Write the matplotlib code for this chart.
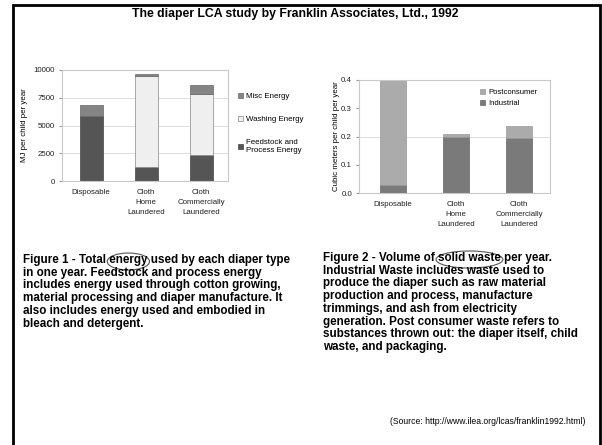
import matplotlib
matplotlib.use("Agg")
import matplotlib.pyplot as plt
from matplotlib.patches import Ellipse, Rectangle

plt.rcParams['font.family'] = ['Liberation Sans', 'DejaVu Sans']

# figure 1: energy (MJ per child per year)
categories = ["Disposable", "Cloth\nHome\nLaundered", "Cloth\nCommercially\nLaundered"]
feedstock = [5900, 1300, 2300]
washing = [0, 8150, 5500]
misc = [950, 150, 850]

# figure 2: solid waste (cubic meters per child per year)
industrial = [0.03, 0.20, 0.195]
postconsumer = [0.365, 0.01, 0.042]

caption1 = ("Figure 1 - Total energy used by each diaper type\n"
            "in one year. Feedstock and process energy\n"
            "includes energy used through cotton growing,\n"
            "material processing and diaper manufacture. It\n"
            "also includes energy used and embodied in\n"
            "bleach and detergent.")
caption2 = ("Figure 2 - Volume of solid waste per year.\n"
            "Industrial Waste includes waste used to\n"
            "produce the diaper such as raw material\n"
            "production and process, manufacture\n"
            "trimmings, and ash from electricity\n"
            "generation. Post consumer waste refers to\n"
            "substances thrown out: the diaper itself, child\n"
            "waste, and packaging.")

W, H = 602, 445
fig = plt.figure(figsize=(W / 100, H / 100), dpi=100)


def box(x0, y0, x1, y1):
    return [x0 / W, 1 - y1 / H, (x1 - x0) / W, (y1 - y0) / H]


def style(ax):
    for s in ax.spines.values():
        s.set_color("#c8c8c8")
        s.set_linewidth(0.8)
    ax.tick_params(axis="both", length=0, labelsize=5.7, colors="#222222", pad=6)
    ax.tick_params(axis="y", length=2, color="#999999", pad=3)
    ax.grid(axis="y", color="#d8d8d8", linewidth=0.6)
    ax.set_axisbelow(True)


x = range(len(categories))

# ---- left chart
ax1 = fig.add_axes(box(62, 70, 228, 181))
b1 = ax1.bar(x, feedstock, 0.42, color="#555555", edgecolor="#444444", linewidth=0.5,
             label="Feedstock and\nProcess Energy")
bottom = [f + w for f, w in zip(feedstock, washing)]
b2 = ax1.bar(x, washing, 0.42, bottom=feedstock, color="#efefef", edgecolor="#888888",
             linewidth=0.5, label="Washing Energy")
b3 = ax1.bar(x, misc, 0.42, bottom=bottom, color="#858585", edgecolor="#666666",
             linewidth=0.5, label="Misc Energy")
ax1.set_ylim(0, 10000)
ax1.set_yticks([0, 2500, 5000, 7500, 10000])
ax1.set_xlim(-0.53, 2.49)
ax1.set_xticks(list(x))
ax1.set_xticklabels(categories, linespacing=1.55)
ax1.set_ylabel("MJ per child per year", fontsize=5.7, labelpad=4)
style(ax1)
ax1.legend(handles=[b3, b2, b1], loc="upper left", bbox_to_anchor=(1.02, 0.86),
           frameon=False, fontsize=5.7, handlelength=0.6, handleheight=0.6,
           handletextpad=0.4, labelspacing=2.0)

# ---- right chart
ax2 = fig.add_axes(box(359, 80, 550, 193))
c1 = ax2.bar(x, industrial, 0.41, color="#7a7a7a", edgecolor="#666666", linewidth=0.5,
             label="Industrial")
c2 = ax2.bar(x, postconsumer, 0.41, bottom=industrial, color="#ababab",
             edgecolor="#999999", linewidth=0.5, label="Postconsumer")
ax2.set_ylim(0, 0.4)
ax2.set_yticks([0.0, 0.1, 0.2, 0.3, 0.4])
ax2.set_yticklabels(["0.0", "0.1", "0.2", "0.3", "0.4"])
ax2.set_xlim(-0.54, 2.49)
ax2.set_xticks(list(x))
ax2.set_xticklabels(categories, linespacing=1.55)
ax2.set_ylabel("Cubic meters per child per year", fontsize=5.7, labelpad=1)
style(ax2)
ax2.grid(False)
ax2.axhline(0.2, color="#d8d8d8", linewidth=0.6, zorder=0)
ax2.legend(handles=[c2, c1], loc="upper left", bbox_to_anchor=(0.6, 0.98),
           frameon=False, fontsize=5.5, handlelength=0.6, handleheight=0.6,
           handletextpad=0.4, labelspacing=0.5)

# ---- text
fig.text(295 / W, 1 - 14 / H, "The diaper LCA study by Franklin Associates, Ltd., 1992",
         ha="center", va="center", fontsize=8.8, fontweight="bold")
cap_kw = dict(ha="left", va="top", fontsize=8.4, fontweight="bold", linespacing=1.08)
fig.text(23 / W, 1 - 254 / H, caption1, **cap_kw)
fig.text(323 / W, 1 - 252 / H, caption2, **cap_kw)
fig.text(585 / W, 1 - 422 / H, "(Source: http://www.ilea.org/lcas/franklin1992.html)",
         ha="right", va="center", fontsize=6.2)

# hand-drawn ovals around key words, placed by measuring the first caption lines
renderer = fig.canvas.get_renderer()


def word_span(x0, y0, before, word):
    t1 = fig.text(x0 / W, 1 - y0 / H, before, **cap_kw)
    t2 = fig.text(x0 / W, 1 - y0 / H, before + word, **cap_kw)
    e1 = t1.get_window_extent(renderer)
    e2 = t2.get_window_extent(renderer)
    t1.remove()
    t2.remove()
    return x0 + e1.width, x0 + e2.width, H - (e2.y0 + e2.y1) / 2


for x0, y0, before, word in [(23, 254, "Figure 1 - Total ", "energy"),
                             (323, 252, "Figure 2 - Volume of ", "solid waste")]:
    left, right, yc = word_span(x0, y0, before, word)
    fig.patches.append(Ellipse(((left + right) / 2 / W, 1 - (yc + 1.5) / H),
                               (right - left + 4) / W, 17 / H, fill=False,
                               edgecolor="#555555", linewidth=0.8,
                               transform=fig.transFigure))

# outer frame
fig.patches.append(Rectangle((13 / W, -0.05), (600 - 13) / W, 1.05 - 5 / H, fill=False,
                             edgecolor="black", linewidth=2, transform=fig.transFigure))

fig.savefig("out.png", dpi=100)
